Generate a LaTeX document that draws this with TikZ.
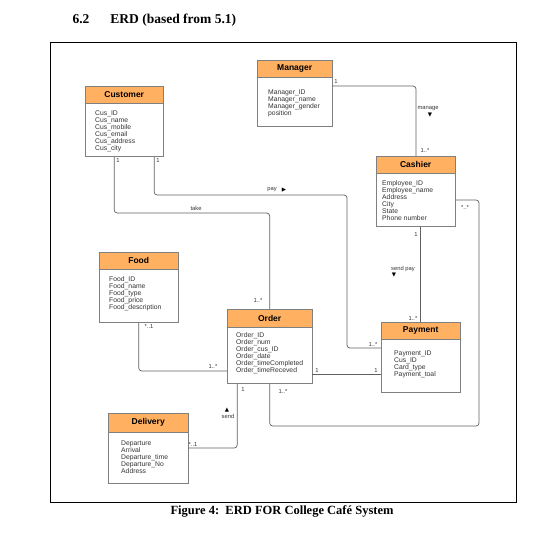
\documentclass[tikz,border=0pt]{standalone}
\usepackage{fontspec}
\setmainfont{Liberation Sans}
\newfontfamily\tnr{Liberation Serif}
\newfontfamily\sym{DejaVu Sans}
\usetikzlibrary{positioning}
\usepackage{xcolor}
\definecolor{headorange}{RGB}{255,176,96}
\definecolor{boxgray}{RGB}{128,128,128}
\definecolor{linegray}{RGB}{96,96,96}

\begin{document}
\begin{tikzpicture}[x=1pt,y=-1pt,
			conn/.style={draw=linegray, line width=0.7pt, rounded corners=3pt},
			tri/.style={inner sep=0pt, text=black, font=\sym\fontsize{5.5}{6}\selectfont}]
			\tikzstyle{head}=[draw=boxgray, fill=headorange, anchor=north west, inner sep=0pt, minimum height=17pt, font=\fontsize{8.5}{10}\selectfont\bfseries]
			\tikzstyle{body}=[draw=boxgray, fill=white, inner sep=0pt]
			\tikzstyle{attr}=[anchor=north west, inner sep=0pt, align=left, text=black!80, font=\fontsize{6.8}{7}\selectfont]
			\tikzstyle{lbl}=[inner sep=0pt, text=black!80, font=\fontsize{5.8}{6}\selectfont]
			\useasboundingbox (0,0) rectangle (540,544);
			\node [anchor=base west, font=\tnr\fontsize{13.5}{16}\selectfont\bfseries] (title) at (69,23) {6.2\hspace{21pt}ERD (based from 5.1)};
			\draw [line width=0.9pt] (50,42) rectangle (516,502);
			\node [anchor=base west, font=\tnr\fontsize{12.5}{14}\selectfont\bfseries] (caption) at (167,514) {Figure 4:\ \ ERD FOR College Café System};
			% entities
			\node [head, minimum width=78pt] (cust) at (85,86) {Customer};
			\node [body, minimum width=78pt, minimum height=53pt, below=0pt of cust] (custbody) {};
			\node [attr] (custattr) at (95,110.5) {Cus\_ID\\Cus\_name\\Cus\_mobile\\Cus\_email\\Cus\_address\\Cus\_city};
			\node [head, minimum width=75pt] (mgr) at (257,60) {Manager};
			\node [body, minimum width=75pt, minimum height=49pt, below=0pt of mgr] (mgrbody) {};
			\node [attr] (mgrattr) at (268,89.5) {Manager\_ID\\Manager\_name\\Manager\_gender\\position};
			\node [head, minimum width=79pt] (cash) at (376,156) {Cashier};
			\node [body, minimum width=79pt, minimum height=53pt, below=0pt of cash] (cashbody) {};
			\node [attr] (cashattr) at (382,180.5) {Employee\_ID\\Employee\_name\\Address\\City\\State\\Phone number};
			\node [head, minimum width=79pt] (food) at (99,252) {Food};
			\node [body, minimum width=79pt, minimum height=53pt, below=0pt of food] (foodbody) {};
			\node [attr] (foodattr) at (109,276.5) {Food\_ID\\Food\_name\\Food\_type\\Food\_price\\Food\_description};
			\node [head, minimum width=85pt, minimum height=18pt] (ord) at (227,309) {Order};
			\node [body, minimum width=85pt, minimum height=56pt, below=0pt of ord] (ordbody) {};
			\node [attr] (ordattr) at (236,332.5) {Order\_ID\\Order\_num\\Order\_cus\_ID\\Order\_date\\Order\_timeCompleted\\Order\_timeReceved};
			\node [head, minimum width=79pt] (pay) at (381,322) {Payment};
			\node [body, minimum width=79pt, minimum height=53pt, below=0pt of pay] (paybody) {};
			\node [attr] (payattr) at (394,350.5) {Payment\_ID\\Cus\_ID\\Card\_type\\Payment\_toal};
			\node [head, minimum width=80pt, minimum height=19pt] (del) at (108,413) {Delivery};
			\node [body, minimum width=80pt, minimum height=51pt, below=0pt of del] (delbody) {};
			\node [attr] (delattr) at (121,440.5) {Departure\\Arrival\\Departure\_time\\Departure\_No\\Address};
			% relations
			\draw [conn] (mgrbody.east |- 0,86) -| (cash.north -| 416,0);
			\draw [conn] ([xshift=-10pt]custbody.south) |- (ord.north |- 0,213) -- (ord.north);
			\draw [conn] ([xshift=30pt]custbody.south) |- (347,195) |- (paybody.west |- 0,348);
			\draw [conn] (pay.north |- cashbody.south) -- (pay.north);
			\draw [conn] (cashbody.east |- 0,200) -| (479,426) -| (ordbody.south);
			\draw [conn] (foodbody.south) |- (ordbody.west |- 0,371);
			\draw [conn] (ordbody.east |- 0,374) -- (paybody.west |- 0,374);
			\draw [conn] ([xshift=-32.5pt]ordbody.south) |- (delbody.east |- 0,448);
			% labels
			\node [lbl] (l1) at (336,82) {1};
			\node [lbl] (l2) at (428,109) {manage};
			\node [tri] (t1) at (430,115) {▼};
			\node [lbl] (l3) at (425,151) {1..*};
			\node [lbl] (l4) at (118,161) {1};
			\node [lbl] (l5) at (158,161) {1};
			\node [lbl] (l6) at (196,208) {take};
			\node [lbl] (l7) at (272,190) {pay};
			\node [tri] (t2) at (284,190) {▶};
			\node [lbl] (l8) at (258,301) {1..*};
			\node [lbl] (l9) at (373,344) {1..*};
			\node [lbl] (l10) at (416,235) {1};
			\node [lbl] (l11) at (403,269) {send pay};
			\node [tri] (t3) at (394,275) {▼};
			\node [lbl] (l12) at (413,318) {1..*};
			\node [lbl] (l13) at (465,208) {*..*};
			\node [lbl] (l14) at (283,391) {1..*};
			\node [lbl] (l15) at (149,327) {*..1};
			\node [lbl] (l16) at (213,366) {1..*};
			\node [lbl] (l17) at (317,370) {1};
			\node [lbl] (l18) at (376,370) {1};
			\node [lbl] (l19) at (243,389) {1};
			\node [tri] (t4) at (227,410) {▲};
			\node [lbl] (l20) at (228,416) {send};
			\node [lbl] (l21) at (193,444) {*..1};
		\end{tikzpicture}
\end{document}
